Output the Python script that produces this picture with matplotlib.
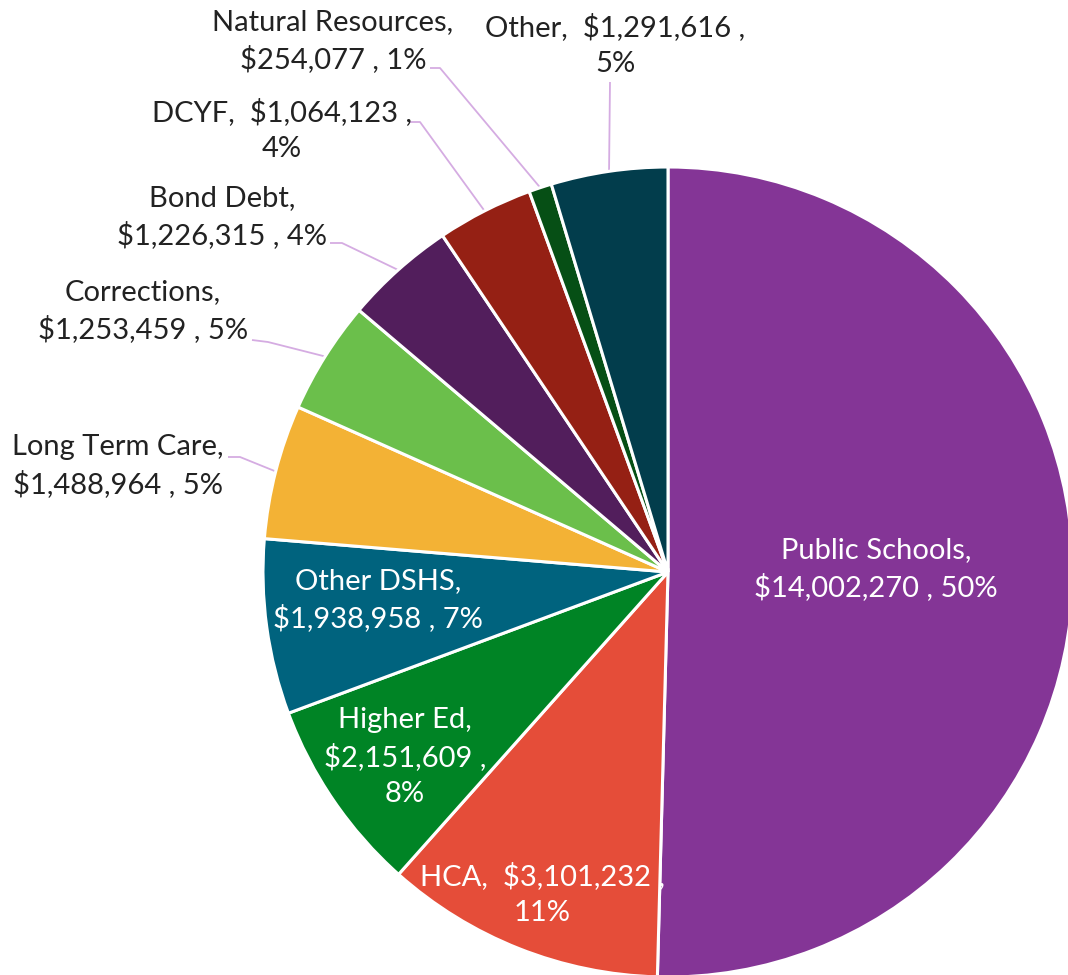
import matplotlib
matplotlib.use("Agg")
import matplotlib.pyplot as plt
import math

categories = ["Public Schools", "HCA", "Higher Ed", "Other DSHS", "Long Term Care",
              "Corrections", "Bond Debt", "DCYF", "Natural Resources", "Other"]
values = [14002270, 3101232, 2151609, 1938958, 1488964,
          1253459, 1226315, 1064123, 254077, 1291616]
colors = ["#843596", "#E54D39", "#008425", "#00637E", "#F3B235",
          "#6BBF4B", "#521E5C", "#952014", "#064F15", "#023D4C"]

W, H = 1068, 975
fig = plt.figure(figsize=(W / 100, H / 100), dpi=100)
ax = fig.add_axes([0, 0, 1, 1])

def Y(py):
    return H - py

cx, cy, r = 668, Y(572), 405
wedges, _ = ax.pie(values, colors=colors, startangle=90, counterclock=False,
                   center=(cx, cy), radius=r, frame=True,
                   wedgeprops=dict(edgecolor="white", linewidth=2.2))
ax.set_xlim(0, W)
ax.set_ylim(0, H)
ax.set_aspect("equal")
ax.axis("off")

total = sum(values)
font = ["Lato", "DejaVu Sans"]
fs = 21

def fmt(i, style):
    name = categories[i]
    v = f"${values[i]:,}"
    p = f"{round(values[i] / total * 100):d}%"
    if style == 0:
        return f"{name},\n{v} , {p}"
    if style == 1:
        return f"{name},  {v} ,\n{p}"
    return f"{name},\n{v} ,\n{p}"

# label layout: (text center x, text center y (px from top), style, inside?, leader elbow points)
layout = {
    0: (876, 569, 0, True, None),
    1: (542, 894, 1, True, None),
    2: (405, 757, 2, True, None),
    3: (378, 600, 0, True, None),
    4: (118, 466, 0, False, [(228, 457), (240, 457)]),
    5: (143, 311, 0, False, [(252, 340), (268, 342)]),
    6: (222, 217, 0, False, [(330, 243), (342, 243)]),
    7: (282, 130, 1, False, [(410, 122), (420, 122)]),
    8: (333, 41, 0, False, [(430, 68), (440, 68)]),
    9: (615, 45, 1, False, [(610, 82)]),
}

cum = 0
for i, v in enumerate(values):
    mid = (cum + v / 2) / total
    cum += v
    ang = math.radians(90 - mid * 360)
    ex, ey = cx + r * math.cos(ang), cy + r * math.sin(ang)
    tx, ty, style, inside, elbow = layout[i]
    ax.text(tx, Y(ty), fmt(i, style), ha="center", va="center", fontsize=fs,
            family=font, color="white" if inside else "#222222", linespacing=1.45)
    if elbow:
        xs = [p[0] for p in elbow] + [ex]
        ys = [Y(p[1]) for p in elbow] + [ey]
        ax.plot(xs, ys, color="#D5ACE2", lw=1.3, solid_capstyle="butt", zorder=0.5)

fig.savefig("out.png", dpi=100)
